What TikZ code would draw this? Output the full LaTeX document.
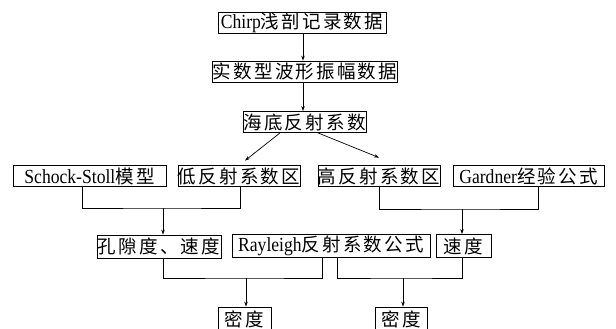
\documentclass[tikz,border=0pt]{standalone}
\usepackage{fontspec}
\setmainfont{Liberation Serif}[FakeStretch=0.88]
\newfontfamily\cjk[LetterSpace=12]{Noto Sans CJK SC}
\usetikzlibrary{arrows.meta}
\newcommand{\cj}[1]{{\fontsize{18.5}{18.5}\cjk #1}}
\begin{document}
\begin{tikzpicture}[x=1pt,y=-1pt,
  box/.style={draw, line width=0.8pt, inner sep=0pt, minimum height=21pt,
    font=\fontsize{20}{20}\selectfont},
  conn/.style={line width=0.7pt},
  arr/.style={conn, -{Stealth[length=5pt,width=3.5pt]}}]
\useasboundingbox (0,0) rectangle (616,329);
\fill[white] (0,0) rectangle (616,329);
% row 1-3
\node[box, minimum width=168pt] (b1) at (302,23) {Chirp\cj{浅剖记录数据}};
\node[box, minimum width=184pt] (b2) at (305,71.5) {\cj{实数型波形振幅数据}};
\node[box, minimum width=123pt] (b3) at (304.5,122) {\cj{海底反射系数}};
% row 4
\node[box, minimum width=153pt] (s) at (89.5,176) {Schock-Stoll\cj{模型}};
\node[box, minimum width=122pt] (low) at (239,176) {\cj{低反射系数区}};
\node[box, minimum width=122pt] (high) at (379,176) {\cj{高反射系数区}};
\node[box, minimum width=151pt] (gard) at (528.5,176) {Gardner\cj{经验公式}};
% row 5
\node[box, minimum width=124pt, minimum height=23pt] (por) at (159,246.5) {\cj{孔隙度、速度}};
\node[box, minimum width=198pt, minimum height=23pt] (ray) at (331,246) {Rayleigh\cj{反射系数公式}};
\node[box, minimum width=55pt, minimum height=23pt] (vel) at (463.5,246) {\cj{速度}};
% row 6
\node[box, minimum width=53pt, minimum height=24pt] (d1) at (244.5,319) {\cj{密度}};
\node[box, minimum width=52pt, minimum height=24pt] (d2) at (401,319) {\cj{密度}};
% arrows top
\draw[arr] ([xshift=1pt]b1.south) -- ([xshift=-2pt]b2.north);
\draw[arr] ([xshift=-2pt]b2.south) -- ([xshift=-1.5pt]b3.north);
\draw[arr] ([xshift=-24.5pt]b3.south) -- ([xshift=6pt,yshift=4.5pt]low.north);
\draw[arr] ([xshift=13.5pt]b3.south) -- ([yshift=7.5pt]high.north);
% joins
\coordinate (j1) at (163,208);
\coordinate (j2) at (462,209);
\coordinate (j3) at (246,278);
\coordinate (j4) at (403,278);
\draw[conn] ([xshift=-7.5pt]s.south) |- (j1) -| ([xshift=1pt]low.south);
\draw[arr] (j1) -- (j1 |- por.north);
\draw[conn] (high.south) |- (j2) -| ([xshift=9.5pt]gard.south);
\draw[arr] (j2) -- (j2 |- vel.north);
\draw[conn] ([xshift=4pt]por.south) |- (j3) -| ([xshift=-9pt]ray.south);
\draw[arr] (j3) -- (j3 |- d1.north);
\draw[conn] ([xshift=6pt]ray.south) |- (j4) -| ([xshift=-1.5pt]vel.south);
\draw[arr] (j4) -- (j4 |- d2.north);
\end{tikzpicture}
\end{document}
